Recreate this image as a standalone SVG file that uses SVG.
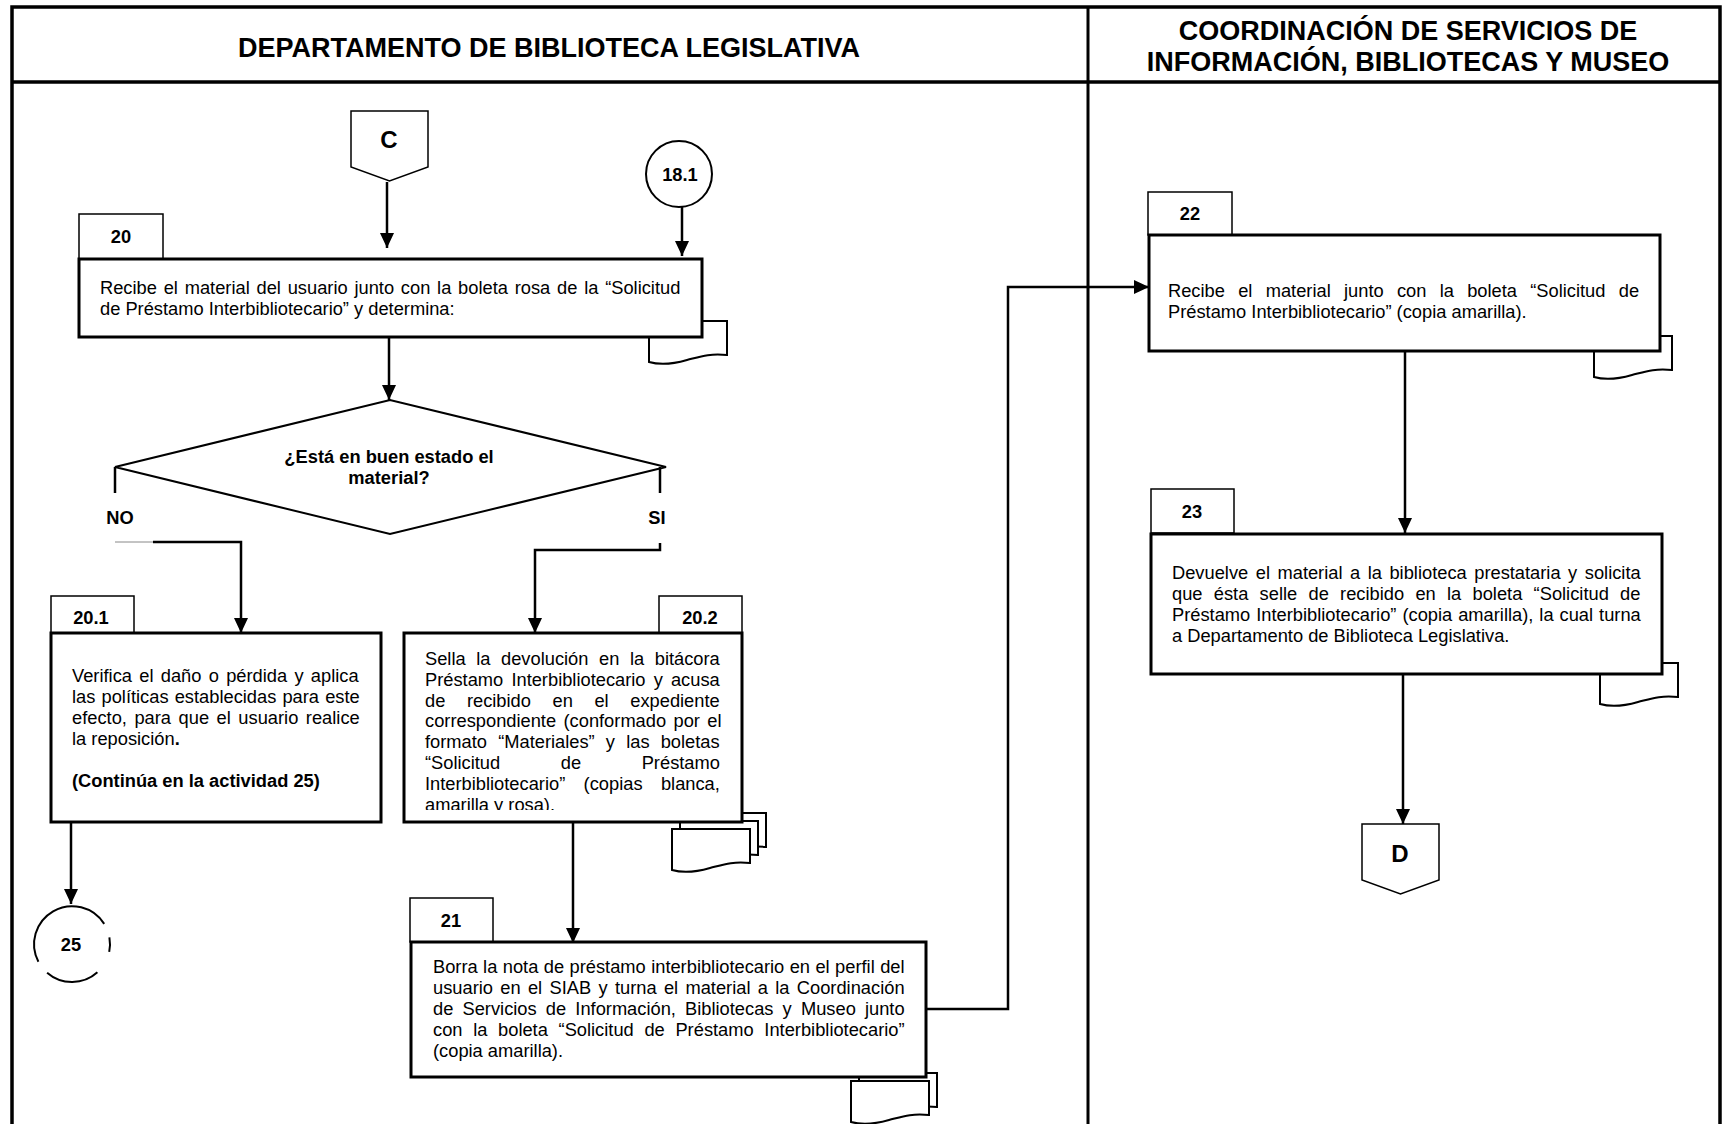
<svg xmlns="http://www.w3.org/2000/svg" width="1723" height="1124" viewBox="0 0 1723 1124">
<style>
.frame{fill:none;stroke:#000;stroke-width:3.5}
.div{fill:none;stroke:#000;stroke-width:3}
.box{fill:#fff;stroke:#000;stroke-width:3}
.tab{fill:#fff;stroke:#000;stroke-width:1.5}
.doc{fill:#fff;stroke:#000;stroke-width:2}
.conn{fill:#fff;stroke:#000;stroke-width:1.5}
.circ{fill:#fff;stroke:#000;stroke-width:2}
.arc{fill:none;stroke:#000;stroke-width:2}
.dia{fill:#fff;stroke:#000;stroke-width:2}
.line{fill:none;stroke:#000;stroke-width:2.5}
.arrow{fill:none;stroke:#000;stroke-width:2.5;marker-end:url(#arr)}
.t{font-family:"Liberation Sans",Arial,sans-serif;font-size:18.3px;fill:#000}
.b{font-family:"Liberation Sans",Arial,sans-serif;font-weight:bold;fill:#000}
.h{font-size:27px;text-anchor:middle}
.n{font-size:18.3px;text-anchor:middle}
.big{font-size:24px;text-anchor:middle}
</style>
<defs>
<marker id="arr" markerUnits="userSpaceOnUse" markerWidth="16" markerHeight="14" refX="15" refY="7" orient="auto"><path d="M0,0 L15,7 L0,14 Z" fill="#000"/></marker>
<path id="doc" d="M0,0 H78 V34 C60,32 50,36 38,39 C26,42.5 12,44.5 0,41 Z"/>
<path id="offpage" d="M0,0 H77 V56 L38.5,70 L0,56 Z"/>
<clipPath id="clip202"><rect x="404" y="635" width="338" height="175"/></clipPath>
</defs>
<rect x="0" y="0" width="1723" height="1124" fill="#fff"/>

<g id="frame">
<path class="frame" d="M12,1130 V7 H1720 V1130"/>
<path class="frame" d="M12,82 H1720"/>
<path class="div" d="M1088,7 V1130"/>
<text class="b h" x="549" y="57">DEPARTAMENTO DE BIBLIOTECA LEGISLATIVA</text>
<text class="b h" x="1408" y="40">COORDINACIÓN DE SERVICIOS DE</text>
<text class="b h" x="1408" y="71">INFORMACIÓN, BIBLIOTECAS Y MUSEO</text>
</g>

<g id="node-C">
<use href="#offpage" x="351" y="111" class="conn"/>
<text class="b big" x="389" y="148">C</text>
</g>

<g id="node-18-1">
<circle class="circ" cx="679" cy="174" r="33"/>
<text class="b n" x="680" y="181">18.1</text>
</g>

<g id="node-20">
<use href="#doc" x="649" y="321" class="doc"/>
<rect class="tab" x="79" y="214" width="84" height="45"/>
<text class="b n" x="121" y="243">20</text>
<rect class="box" x="79" y="259" width="623" height="78"/>
<text class="t" x="100" y="294" word-spacing="1.7">Recibe el material del usuario junto con la boleta rosa de la “Solicitud</text>
<text class="t" x="100" y="315">de Préstamo Interbibliotecario” y determina:</text>
</g>

<g id="node-decision">
<polygon class="dia" points="115,467 390,400 666,467 390,534"/>
<text class="b n" x="389" y="463">¿Está en buen estado el</text>
<text class="b n" x="389" y="484">material?</text>
<text class="b n" x="120" y="524">NO</text>
<text class="b n" x="657" y="524">SI</text>
</g>

<g id="node-20-1">
<rect class="tab" x="51" y="596" width="83" height="37"/>
<text class="b n" x="91" y="624">20.1</text>
<rect class="box" x="51" y="633" width="330" height="189"/>
<text class="t" x="72" y="682" word-spacing="2.2">Verifica el daño o pérdida y aplica</text>
<text class="t" x="72" y="703" word-spacing="1.05">las políticas establecidas para este</text>
<text class="t" x="72" y="724" word-spacing="2.46">efecto, para que el usuario realice</text>
<text class="t" x="72" y="745">la reposición<tspan font-weight="bold">.</tspan></text>
<text class="b" font-size="18.3" x="72" y="787">(Continúa en la actividad 25)</text>
</g>

<g id="node-20-2">
<use href="#doc" x="688" y="813" class="doc"/>
<use href="#doc" x="680" y="821" class="doc"/>
<use href="#doc" x="672" y="829" class="doc"/>
<rect class="tab" x="659" y="596" width="83" height="37"/>
<text class="b n" x="700" y="624">20.2</text>
<rect class="box" x="404" y="633" width="338" height="189"/>
<g clip-path="url(#clip202)">
<text class="t" x="425" y="665" word-spacing="5.5">Sella la devolución en la bitácora</text>
<text class="t" x="425" y="685.8" word-spacing="3.07">Préstamo Interbibliotecario y acusa</text>
<text class="t" x="425" y="706.6" word-spacing="16.5">de recibido en el expediente</text>
<text class="t" x="425" y="727.4" word-spacing="2.3">correspondiente (conformado por el</text>
<text class="t" x="425" y="748.2" word-spacing="6.1">formato “Materiales” y las boletas</text>
<text class="t" x="425" y="769" word-spacing="55.5">“Solicitud de Préstamo</text>
<text class="t" x="425" y="789.8" word-spacing="13.3">Interbibliotecario” (copias blanca,</text>
<text class="t" x="425" y="810.6">amarilla y rosa).</text>
</g>
</g>

<g id="node-25">
<path class="arc" d="M38.4,961.8 A38,38 0 0 1 104.2,923.9"/>
<path class="arc" d="M109.4,937.4 A38,38 0 0 1 109.2,951.9"/>
<path class="arc" d="M97.4,972.2 A38,38 0 0 1 47.1,972.7"/>
<text class="b n" x="71" y="951">25</text>
</g>

<g id="node-21">
<use href="#doc" x="859" y="1073" class="doc"/>
<use href="#doc" x="851" y="1081" class="doc"/>
<rect class="tab" x="410" y="898" width="83" height="44"/>
<text class="b n" x="451" y="927">21</text>
<rect class="box" x="411" y="942" width="515" height="135"/>
<text class="t" x="433" y="973" word-spacing="0.34">Borra la nota de préstamo interbibliotecario en el perfil del</text>
<text class="t" x="433" y="994" word-spacing="2.24">usuario en el SIAB y turna el material a la Coordinación</text>
<text class="t" x="433" y="1015" word-spacing="4.08">de Servicios de Información, Bibliotecas y Museo junto</text>
<text class="t" x="433" y="1036" word-spacing="5.6">con la boleta “Solicitud de Préstamo Interbibliotecario”</text>
<text class="t" x="433" y="1057">(copia amarilla).</text>
</g>

<g id="node-22">
<use href="#doc" x="1594" y="336" class="doc"/>
<rect class="tab" x="1148" y="192" width="84" height="43"/>
<text class="b n" x="1190" y="220">22</text>
<rect class="box" x="1149" y="235" width="511" height="116"/>
<text class="t" x="1168" y="297" word-spacing="8.2">Recibe el material junto con la boleta “Solicitud de</text>
<text class="t" x="1168" y="318">Préstamo Interbibliotecario” (copia amarilla).</text>
</g>

<g id="node-23">
<use href="#doc" x="1600" y="663" class="doc"/>
<rect class="tab" x="1151" y="489" width="83" height="44"/>
<text class="b n" x="1192" y="518">23</text>
<rect class="box" x="1151" y="534" width="511" height="140"/>
<text class="t" x="1172" y="579" word-spacing="2.44">Devuelve el material a la biblioteca prestataria y solicita</text>
<text class="t" x="1172" y="600" word-spacing="6.2">que ésta selle de recibido en la boleta “Solicitud de</text>
<text class="t" x="1172" y="621" word-spacing="0.9">Préstamo Interbibliotecario” (copia amarilla), la cual turna</text>
<text class="t" x="1172" y="642">a Departamento de Biblioteca Legislativa.</text>
</g>

<g id="node-D">
<use href="#offpage" x="1362" y="824" class="conn"/>
<text class="b big" x="1400" y="862">D</text>
</g>

<g id="connectors">
<path class="arrow" d="M387,182 V248"/>
<path class="arrow" d="M682,207 V256"/>
<path class="arrow" d="M389,338 V400"/>
<path class="line" d="M115,467 V493"/>
<path d="M115,542 H154" fill="none" stroke="#888" stroke-width="1"/>
<path class="arrow" d="M153,542 H241 V633"/>
<path class="line" d="M660,467 V493"/>
<path class="arrow" d="M660,543 V550 H535 V633"/>
<path class="arrow" d="M71,822 V904"/>
<path class="arrow" d="M573,822 V943"/>
<path class="arrow" d="M926,1009 H1008 V287 H1149"/>
<path class="arrow" d="M1405,351 V533"/>
<path class="arrow" d="M1403,674 V824"/>
</g>
</svg>
